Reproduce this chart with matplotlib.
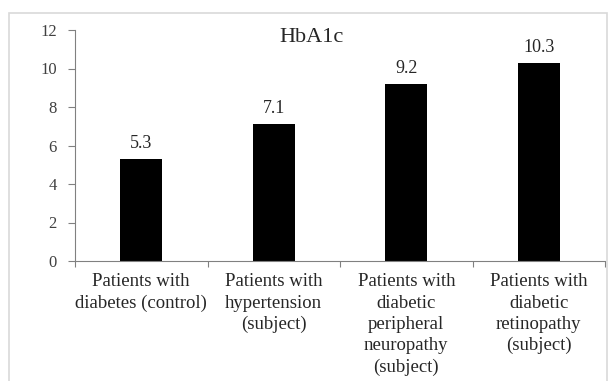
import matplotlib.pyplot as plt
from matplotlib.patches import Rectangle
import numpy as np

# HbA1c by patient group
groups = ['Patients with\ndiabetes (control)',
          'Patients with\nhypertension\n(subject)',
          'Patients with\ndiabetic\nperipheral\nneuropathy\n(subject)',
          'Patients with\ndiabetic\nretinopathy\n(subject)']
hba1c = [5.3, 7.1, 9.2, 10.3]
yticks = [0, 2, 4, 6, 8, 10, 12]

plt.rcParams['font.family'] = ['Liberation Serif', 'DejaVu Serif']

fig = plt.figure(figsize=(6.13, 3.81), dpi=100)
ax = fig.add_axes([75/613, 1 - 261/381, 530/613, 231/381])

# chart area frame (bottom edge runs off the image)
fig.patches.append(Rectangle((8.5/613, -0.05), 598/613, 1.05 - 12.5/381,
                             transform=fig.transFigure, fill=False,
                             edgecolor='#d9d9d9', lw=1.2))

x = np.arange(len(groups))
ax.bar(x, hba1c, width=0.32, color='black')
for xi, v in zip(x, hba1c):
    ax.annotate('{}'.format(v), (xi, v), xytext=(0, 5), textcoords='offset points',
                ha='center', va='bottom', fontsize=13, color='#262626')

ax.set_xlim(-0.5, len(groups) - 0.5)
ax.set_ylim(0, 12)
ax.set_yticks(yticks)
ax.tick_params(axis='y', labelsize=12, labelcolor='#404040', color='#808080',
               length=5, direction='out', pad=8)

# ticks between categories, labels centered under bars
ax.set_xticks(np.arange(len(groups) + 1) - 0.5)
ax.set_xticklabels([])
ax.set_xticks(x, minor=True)
ax.set_xticklabels(groups, minor=True, fontsize=13.5, color='#262626', linespacing=1.32)
ax.tick_params(axis='x', which='major', color='#808080', length=4, direction='out')
ax.tick_params(axis='x', which='minor', length=0, pad=9)

for s in ['top', 'right']:
    ax.spines[s].set_visible(False)
for s in ['left', 'bottom']:
    ax.spines[s].set_color('#808080')

fig.text(312/613, 1 - 37/381, 'HbA1c', ha='center', va='center',
         fontsize=16, color='#262626')

fig.savefig('out.png', dpi=100)
